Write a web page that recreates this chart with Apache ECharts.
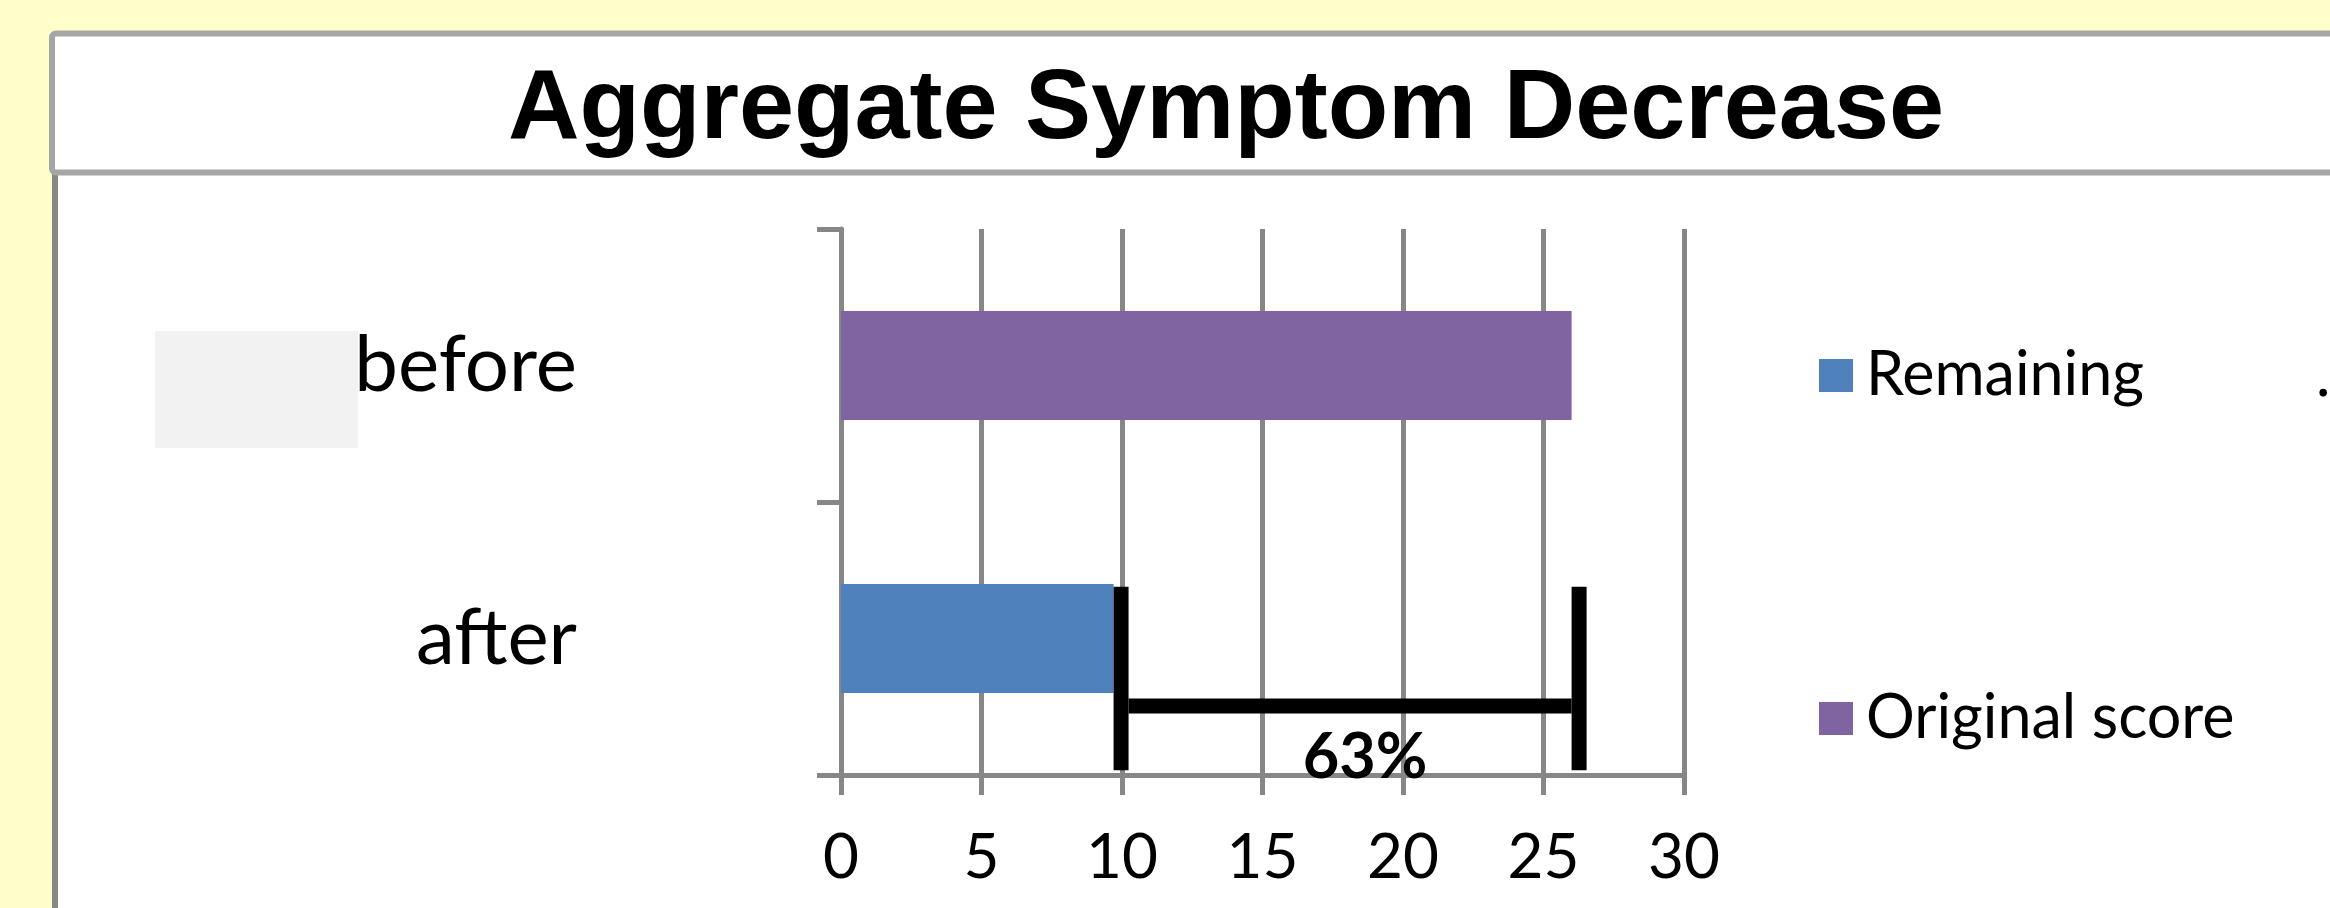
<!DOCTYPE html>
<html>
<head>
<meta charset="utf-8">
<title>Aggregate Symptom Decrease</title>
<script src="https://cdn.jsdelivr.net/npm/echarts@6/dist/echarts.min.js"></script>
<style>
  html, body { margin: 0; padding: 0; background: #FFFFCC; }
  #chart { width: 2330px; height: 908px; }
</style>
</head>
<body>
<div id="chart"></div>
<script>
// Symptom scores before and after treatment
const categories = ['before', 'after'];
const seriesNames = ['Remaining', 'Original score'];
const remaining = [null, 9.7];
const original = [26, null];

// Value axis range
const xMin = 0;
const xMax = 30;
const xStep = 5;

// Decrease bracket: from the remaining score up to the original score
const bracketFrom = remaining[1];
const bracketTo = original[0];
const decreasePct = Math.round((bracketTo - bracketFrom) / bracketTo * 100);

const BLUE = '#4F81BD';
const PURPLE = '#8064A2';
const GRID = '#878787';
const UI_FONT = 'Lato';

const chart = echarts.init(document.getElementById('chart'), null, { renderer: 'canvas' });

const option = {
  backgroundColor: '#FFFFCC',
  animation: false,
  title: {
    text: 'Aggregate Symptom Decrease',
    left: 508,
    top: 61,
    padding: 0,
    textStyle: {
      fontFamily: 'Liberation Sans',
      fontWeight: 'bold',
      fontSize: 99,
      color: '#000000'
    }
  },
  graphic: [
    { type: 'rect', z: -20, shape: { x: 52, y: 172, width: 2400, height: 800 }, style: { fill: '#FFFFFF' } },
    { type: 'line', z: -19, shape: { x1: 55, y1: 172, x2: 55, y2: 920 }, style: { stroke: '#878787', lineWidth: 6 } },
    { type: 'rect', z: -18, shape: { x: 52, y: 33.5, width: 2400, height: 139, r: 4 }, style: { fill: '#FFFFFF', stroke: '#A6A6A6', lineWidth: 6 } },
    { type: 'rect', z: -15, shape: { x: 155, y: 331, width: 203, height: 117 }, style: { fill: '#F2F2F2' } },
    { type: 'text', z: 5, x: 2316, y: 376, style: { text: '.', fontFamily: UI_FONT, fontSize: 61, fill: '#000000', textVerticalAlign: 'middle' } }
  ],
  legend: {
    orient: 'vertical',
    left: 1814,
    top: 340,
    data: seriesNames,
    icon: 'rect',
    itemWidth: 34,
    itemHeight: 33,
    itemGap: 282,
    selectedMode: false,
    textStyle: {
      fontFamily: UI_FONT,
      fontSize: 61,
      color: '#000000',
      padding: [0, 0, 0, 8]
    }
  },
  grid: {
    left: 841,
    right: 2330 - 1684,
    top: 229,
    bottom: 908 - 775,
    containLabel: false
  },
  xAxis: {
    type: 'value',
    min: xMin,
    max: xMax,
    interval: xStep,
    axisLine: { show: true, lineStyle: { color: GRID, width: 5 } },
    axisTick: { show: true, length: 20, lineStyle: { color: GRID, width: 5 } },
    splitLine: { show: true, lineStyle: { color: GRID, width: 5 } },
    axisLabel: {
      margin: 52,
      fontFamily: UI_FONT,
      fontSize: 62,
      color: '#000000'
    }
  },
  yAxis: {
    type: 'category',
    data: categories,
    inverse: true,
    axisLine: { show: true, lineStyle: { color: GRID, width: 5 } },
    axisTick: { show: true, length: 24, lineStyle: { color: GRID, width: 5 } },
    axisLabel: {
      margin: 264,
      fontFamily: UI_FONT,
      fontSize: 78,
      color: '#000000'
    }
  },
  series: [
    {
      name: seriesNames[0],
      type: 'bar',
      stack: 'score',
      barWidth: '40%',
      itemStyle: { color: BLUE },
      data: remaining
    },
    {
      name: seriesNames[1],
      type: 'bar',
      stack: 'score',
      barWidth: '40%',
      itemStyle: { color: PURPLE },
      data: original
    },
    {
      name: 'decrease',
      type: 'custom',
      z: 4,
      silent: true,
      data: [[bracketFrom, bracketTo, categories[1]]],
      encode: { x: [0, 1], y: 2 },
      renderItem: function (params, api) {
        const y = api.coord([0, api.value(2)])[1];
        const band = api.size([0, 1])[1];
        const x1 = api.coord([api.value(0), api.value(2)])[0];
        const x2 = api.coord([api.value(1), api.value(2)])[0];
        const w = 15;
        const top = y - 0.19 * band;
        const bottom = y + 0.483 * band;
        const mid = y + 0.247 * band;
        return {
          type: 'group',
          children: [
            { type: 'rect', shape: { x: x1, y: top, width: w, height: bottom - top }, style: { fill: '#000000' } },
            { type: 'rect', shape: { x: x2, y: top, width: w, height: bottom - top }, style: { fill: '#000000' } },
            { type: 'rect', shape: { x: x1 + w, y: mid - 7.5, width: x2 - x1 - w, height: 15 }, style: { fill: '#000000' } },
            {
              type: 'text',
              x: (x1 + x2 + w) / 2 + 15,
              y: y + 0.437 * band,
              style: {
                text: decreasePct + '%',
                fontFamily: UI_FONT,
                fontWeight: 'bold',
                fontSize: 63,
                fill: '#000000',
                textAlign: 'center',
                textVerticalAlign: 'middle'
              }
            }
          ]
        };
      }
    }
  ]
};

chart.setOption(option);
</script>
</body>
</html>
